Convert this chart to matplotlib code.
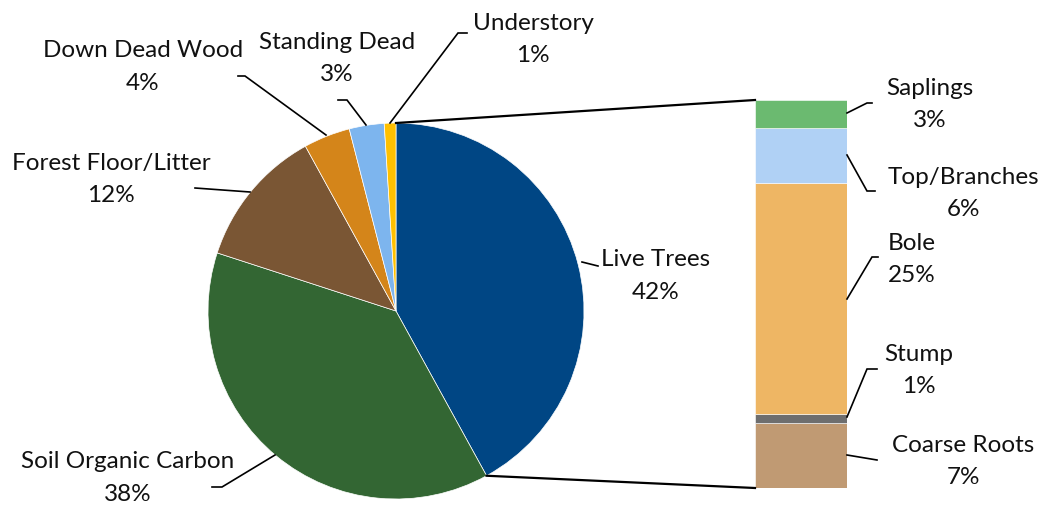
import matplotlib
matplotlib.use("Agg")
import matplotlib.pyplot as plt
import numpy as np

plt.rcParams['font.family'] = ['Lato', 'DejaVu Sans']

# ---- data ----
pie_labels = ["Live Trees", "Soil Organic Carbon", "Forest Floor/Litter",
              "Down Dead Wood", "Standing Dead", "Understory"]
pie_values = [42, 38, 12, 4, 3, 1]
pie_colors = ["#004684", "#336633", "#7A5634", "#D4851A", "#7DB5EE", "#FFC000"]

bar_labels = ["Coarse Roots", "Stump", "Bole", "Top/Branches", "Saplings"]
bar_values = [7, 1, 25, 6, 3]
bar_colors = ["#C09A73", "#6E6E6E", "#EEB664", "#B0D1F5", "#6BBA70"]

W, H = 1042, 508
fig = plt.figure(figsize=(W / 100, H / 100), dpi=100)

# layout (pixels)
cx, cy, R = 396, 311, 188
bx0, bx1, by0, by1 = 755, 847, 100, 488

# pie axes
pax = fig.add_axes([(cx - R) / W, (H - cy - R) / H, 2 * R / W, 2 * R / H])
pax.pie(pie_values, colors=pie_colors, startangle=90, counterclock=False,
        radius=1, wedgeprops=dict(edgecolor="white", linewidth=0.5))
pax.set_xlim(-1, 1)
pax.set_ylim(-1, 1)
pax.set_aspect('auto')
pax.axis('off')

# bar axes
bax = fig.add_axes([bx0 / W, (H - by1) / H, (bx1 - bx0) / W, (by1 - by0) / H])
bottom = 0
for v, c in zip(bar_values, bar_colors):
    bax.bar(0, v, bottom=bottom, width=1, color=c, edgecolor="white", linewidth=0.4)
    bottom += v
bax.set_xlim(-0.5, 0.5)
bax.set_ylim(0, sum(bar_values))
bax.axis('off')

# overlay axes in pixel coordinates
ax = fig.add_axes([0, 0, 1, 1], zorder=5)
ax.set_xlim(0, W)
ax.set_ylim(H, 0)
ax.axis('off')

# connector lines pie -> bar
start = np.deg2rad(90)
end = np.deg2rad(90 - 360 * pie_values[0] / sum(pie_values))
p_top = (cx + R * np.cos(start), cy - R * np.sin(start))
p_end = (cx + R * np.cos(end), cy - R * np.sin(end))
ax.plot([p_top[0], bx0], [p_top[1], by0], color="black", lw=1.6)
ax.plot([p_end[0], bx0], [p_end[1], by1], color="black", lw=1.6)

fs = 17.5
lw = 1.2

def lab(text, x, y, ha="center"):
    ax.text(x, y, text, ha=ha, va="center", fontsize=fs, color="#111111",
            multialignment=ha, linespacing=1.65)

def leader(pts):
    xs, ys = zip(*pts)
    ax.plot(xs, ys, color="black", lw=lw, solid_joinstyle="miter")

pct = [f"{v}%" for v in pie_values]
# pie labels
lab(f"{pie_labels[0]}\n{pct[0]}", 656, 276)
leader([(582, 262), (598, 266)])
lab(f"{pie_labels[1]}\n{pct[1]}", 128, 478)
leader([(275, 455), (222, 487), (212, 487)])
lab(f"{pie_labels[2]}\n{pct[2]}", 111, 179.5)
leader([(250, 192), (195, 188)])
lab(f"{pie_labels[3]}\n{pct[3]}", 143, 67)
leader([(326, 135), (245, 76), (238, 76)])
lab(f"{pie_labels[4]}\n{pct[4]}", 337, 58.5)
leader([(366, 125), (347, 100), (338, 100)])
lab(f"{pie_labels[5]}\n{pct[5]}", 533, 39.5)
leader([(390, 123), (458, 33), (467, 33)])

# bar labels
bpct = [f"{v}%" for v in bar_values]
lab(f"{bar_labels[4]}\n{bpct[4]}", 930, 104.5)
leader([(847, 113), (867, 103), (872, 103)])
lab(f"{bar_labels[3]}\n{bpct[3]}", 963, 193.5)
leader([(847, 155), (867, 191), (875, 191)])
lab(f"{bar_labels[2]}\n{bpct[2]}", 888, 259.5, ha="left")
leader([(847, 299), (872, 257), (878, 257)])
lab(f"{bar_labels[1]}\n{bpct[1]}", 919, 370.5)
leader([(847, 417), (867, 369), (877, 369)])
lab(f"{bar_labels[0]}\n{bpct[0]}", 963, 461.5)
leader([(847, 455), (877, 460)])

fig.savefig("out.png", dpi=100, facecolor="white")
